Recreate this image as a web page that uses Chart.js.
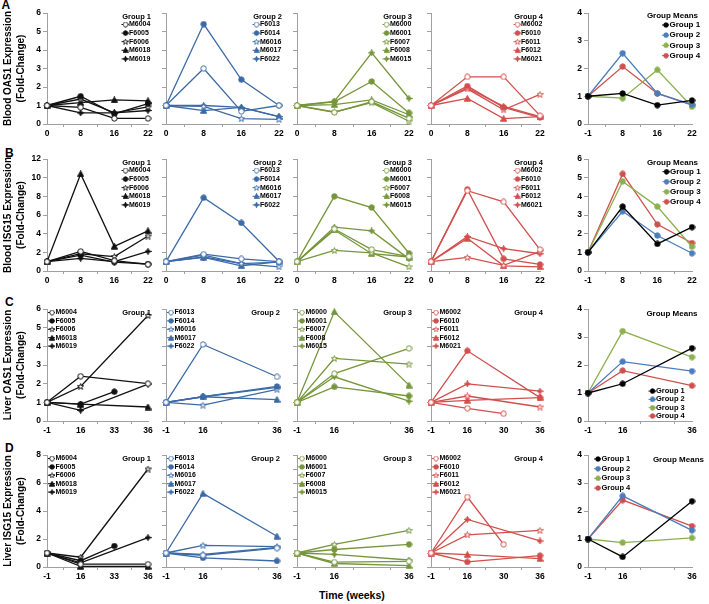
<!DOCTYPE html>
<html>
<head>
<meta charset="utf-8">
<script src="https://cdn.jsdelivr.net/npm/chart.js@4.4.0/dist/chart.umd.min.js"></script>
<style>
  body { margin: 0; background: #fff; }
  #fig { position: relative; width: 709px; height: 604px; overflow: hidden; font-family: "Liberation Sans", Arial, sans-serif; }
  #fig canvas { position: absolute; }
  .lbl { position: absolute; font-weight: bold; color: #000; white-space: nowrap; line-height: 1; }
</style>
</head>
<body>
<div id="fig">
  <div class="lbl" style="left:1.5px;top:-1px;font-size:12px">A</div>
  <div class="lbl" style="left:5px;top:147px;font-size:12px">B</div>
  <div class="lbl" style="left:5px;top:296px;font-size:12px">C</div>
  <div class="lbl" style="left:5px;top:442px;font-size:12px">D</div>
  <div class="lbl" style="left:319px;top:590px;font-size:10.5px">Time (weeks)</div>
</div>
<script>
// x categories (weeks)
const bloodWeeks = ['0', '8', '16', '22'];
const bloodMeanWeeks = ['-1', '8', '16', '22'];
const liverWeeksG1 = ['-1', '16', '33', '36'];
const liverWeeks = ['-1', '16', '', '36'];
const liverWeeksG4 = ['-1', '16', '30', '36'];

// animals, in legend order
const group1 = ['M6004', 'F6005', 'F6006', 'M6018', 'M6019'];
const group2 = ['F6013', 'F6014', 'M6016', 'M6017', 'F6022'];
const group3 = ['M6000', 'M6001', 'F6007', 'F6008', 'M6015'];
const group4 = ['M6002', 'F6010', 'F6011', 'F6012', 'M6021'];
const meanNames = ['Group 1', 'Group 2', 'Group 3', 'Group 4'];

// A - Blood OAS1
const bloodOAS1G1 = [[1, 0.9, 0.3, 0.3], [1, 1.5, 0.55, 1.1], [1, 1.35, 0.6, 0.92], [1, 1.15, 1.3, 1.25], [1, 0.6, 0.6, 0.73]];
const bloodOAS1G2 = [[1, 3.0, 0.68, 1.0], [1, 5.4, 2.4, 1.0], [1, 0.95, 0.29, 0.25], [1, 0.72, 0.9, 0.4], [1, 1.0, 0.9, 0.4]];
const bloodOAS1G3 = [[1, 0.63, 1.2, 0.3], [1, 1.2, 2.3, 0.6], [1, 0.65, 1.15, 0.15], [1, 1.05, 1.3, 0.5], [1, 1.22, 3.85, 1.38]];
const bloodOAS1G4 = [[1, 2.55, 2.55, 0.45], [1, 2.05, 0.9, 0.35], [1, 1.9, 0.77, 1.6], [1, 1.38, 0.29, 0.4], [1, 1.95, 0.95, 0.4]];
const bloodOAS1Means = [[1, 1.1, 0.68, 0.85], [1, 2.55, 1.1, 0.7], [1, 0.93, 1.95, 0.62], [1, 2.07, 1.1, 0.68]];

// B - Blood ISG15
const bloodISG15G1 = [[1, 2.1, 1.1, 0.7], [1, 1.7, 0.95, 0.75], [1, 1.85, 1.55, 3.75], [1, 10.4, 2.65, 4.3], [1, 1.35, 1.0, 2.1]];
const bloodISG15G2 = [[1, 1.8, 1.3, 1.0], [1, 7.85, 5.15, 1.05], [1, 1.7, 0.8, 0.45], [1, 1.45, 0.55, 1.0], [1, 1.5, 0.8, 0.95]];
const bloodISG15G3 = [[1, 4.5, 2.3, 1.55], [1, 8.0, 6.8, 1.9], [1, 2.2, 1.95, 0.45], [1, 4.4, 1.85, 1.5], [1, 4.7, 4.3, 1.3]];
const bloodISG15G4 = [[1, 8.6, 7.4, 2.3], [1, 8.75, 1.3, 0.7], [1, 1.45, 0.6, 2.1], [1, 3.5, 0.55, 0.45], [1, 3.7, 2.4, 1.85]];
const bloodISG15Means = [[1, 3.45, 1.45, 2.35], [1, 3.2, 1.9, 0.95], [1, 4.8, 3.45, 1.3], [1, 5.2, 2.5, 1.5]];

// C - Liver OAS1
const liverOAS1G1 = [[1, 2.4, null, 2.0], [1, 0.9, 1.57, null], [1, 1.85, null, 5.65], [1, 0.9, null, 0.75], [1, 0.57, null, 1.98]];
const liverOAS1G2 = [[1, 4.1, null, 2.37], [1, 1.3, null, 1.85], [1, 0.85, null, 1.7], [1, 1.3, null, 1.15], [1, 1.3, null, 1.8]];
const liverOAS1G3 = [[1, 2.54, null, 3.89], [1, 1.83, null, 1.34], [1, 3.35, null, 3.05], [1, 5.85, null, 1.92], [1, 2.37, null, 1.06]];
const liverOAS1G4 = [[1, 0.68, 0.39, null], [1, 3.76, null, 1.25], [1, 1.34, null, 0.75], [1, 1.11, null, 1.25], [1, 1.99, null, 1.6]];
const liverOAS1Means = [[1, 1.33, null, 2.6], [1, 2.12, null, 1.78], [1, 3.21, null, 2.28], [1, 1.8, null, 1.26]];

// D - Liver ISG15
const liverISG15G1 = [[1, 0.2, null, 0.2], [1, 0.45, 1.5, null], [1, 0.7, null, 7.0], [1, 0.05, null, 0.05], [1, 0.3, null, 2.1]];
const liverISG15G2 = [[1, 0.84, null, 1.35], [1, 0.65, null, 0.43], [1, 1.55, null, 1.45], [1, 5.25, null, 2.2], [1, 0.9, null, 1.4]];
const liverISG15G3 = [[1, 0.35, null, 0.4], [1, 1.25, null, 1.62], [1, 1.62, null, 2.62], [1, 0.25, null, 0.1], [1, 0.9, null, 0.5]];
const liverISG15G4 = [[1, 5.0, 1.62, null], [1, 0.36, null, 0.81], [1, 2.3, null, 2.62], [1, 0.88, null, 0.6], [1, 3.4, null, 1.86]];
const liverISG15Means = [[1, 0.36, null, 2.35], [1, 2.54, null, 1.31], [1, 0.87, null, 1.04], [1, 2.39, null, 1.46]];

const fig = document.getElementById('fig');
const fontFam = '"Liberation Sans", Arial, sans-serif';
const axisGrey = '#a0a0a0';
const groupColors = ['#111111', '#3b6aa6', '#76963a', '#d24f4d'];
const meanColors = ['#000000', '#4a7dbb', '#8cb04f', '#d0504f'];
const animalShapes = ['openCircle', 'circle', 'openStar', 'triangle', 'cross'];

function makeMarker(shape, color, size) {
  const c = document.createElement('canvas');
  c.width = size; c.height = size;
  const g = c.getContext('2d');
  const m = size / 2;
  g.lineWidth = 1;
  g.strokeStyle = color;
  g.fillStyle = shape.startsWith('open') ? '#fff' : color;
  g.beginPath();
  if (shape === 'circle' || shape === 'openCircle') {
    g.arc(m, m, m - 0.8, 0, Math.PI * 2);
  } else if (shape === 'openStar') {
    for (let i = 0; i < 10; i++) {
      const r = i % 2 ? (m - 0.5) * 0.45 : m - 0.3;
      const a = -Math.PI / 2 + i * Math.PI / 5;
      g.lineTo(m + r * Math.cos(a), m + r * Math.sin(a) + 0.3);
    }
  } else if (shape === 'triangle') {
    g.moveTo(m, 0.4); g.lineTo(size - 0.4, size - 0.8); g.lineTo(0.4, size - 0.8);
  } else if (shape === 'cross') {
    for (let i = 0; i < 8; i++) {
      const r = i % 2 ? m * 0.38 : m - 0.3;
      const a = -Math.PI / 2 + i * Math.PI / 4;
      g.lineTo(m + r * Math.cos(a), m + r * Math.sin(a));
    }
  }
  g.closePath();
  g.fill();
  g.stroke();
  return c;
}

// legend drawn inside the plot, Excel style
function legendPlugin(lg, names, colors, markers) {
  return {
    id: 'groupLegend',
    afterDraw(chart) {
      const {ctx, chartArea: a} = chart;
      ctx.save();
      ctx.fillStyle = '#000';
      ctx.textBaseline = 'middle';
      ctx.textAlign = 'right';
      ctx.font = `bold ${lg.titleSize}px ${fontFam}`;
      ctx.fillText(lg.title, a.right + lg.tx, a.top + lg.ty);
      ctx.textAlign = 'left';
      ctx.font = `bold ${lg.size}px ${fontFam}`;
      const mx = lg.side === 'left' ? a.left + lg.mx : a.right + lg.mx;
      const y0 = lg.fromBottom ? a.bottom + lg.my - (names.length - 1) * lg.gap : a.top + lg.my;
      names.forEach((n, i) => {
        const y = y0 + i * lg.gap;
        ctx.strokeStyle = colors[i];
        ctx.lineWidth = 1;
        ctx.beginPath(); ctx.moveTo(mx - 4, y); ctx.lineTo(mx + 3, y); ctx.stroke();
        ctx.drawImage(markers[i], mx - 3, y - 3, 6, 6);
        ctx.fillText(n, mx + 3.5, y);
      });
      ctx.restore();
    }
  };
}

function addPanel(p) {
  const L = p.yTitle ? p.x0 : 12;
  const T = 10, R = 16, B = 16;
  const cv = document.createElement('canvas');
  cv.width = p.x1 - p.x0 + L + R;
  cv.height = p.yb - p.yt + T + B;
  cv.style.left = (p.x0 - L) + 'px';
  cv.style.top = (p.yt - T) + 'px';
  fig.appendChild(cv);

  const colors = p.means ? meanColors : p.series.map(() => groupColors[p.group]);
  const markers = p.series.map((s, i) => makeMarker(p.means ? 'circle' : animalShapes[i], colors[i], 7));
  const tickFont = {family: fontFam, size: 8.5, weight: 'bold'};

  new Chart(cv, {
    type: 'line',
    data: {
      labels: p.labels,
      datasets: p.series.map((vals, i) => ({
        label: p.names[i],
        data: vals,
        borderColor: colors[i],
        borderWidth: 1.3,
        pointStyle: markers[i],
        pointRadius: 3.5,
        spanGaps: true,
        clip: false,
        tension: 0
      }))
    },
    options: {
      responsive: false,
      animation: false,
      devicePixelRatio: 1,
      events: [],
      layout: {padding: {left: 0, top: T, right: R, bottom: 0}},
      plugins: {legend: {display: false}, tooltip: {enabled: false}},
      scales: {
        x: {
          offset: false,
          grid: {drawOnChartArea: false, offset: true, tickLength: 3, color: axisGrey},
          border: {color: axisGrey},
          ticks: {font: tickFont, color: '#000', padding: 2, maxRotation: 0, autoSkip: false},
          afterFit: s => { s.height = B; }
        },
        y: {
          min: 0,
          max: p.yMax,
          grid: {drawOnChartArea: false, tickLength: 4, color: axisGrey},
          border: {color: axisGrey},
          ticks: {
            stepSize: p.yStep, font: tickFont, color: '#000', padding: 2,
            callback: p.showY ? (v => v) : (() => '')
          },
          title: p.yTitle ? {
            display: true, text: p.yTitle, color: '#000',
            font: {family: fontFam, size: 10, weight: 'bold', lineHeight: 1.35},
            padding: {top: 1, bottom: 0}
          } : {display: false},
          afterFit: s => { s.width = L; }
        }
      }
    },
    plugins: [legendPlugin(p.legend, p.names, colors, markers)]
  });
}

const rows = [
  {yt: 13, yb: 124, yMax: 6, yStep: 1, inStep: 1, mMax: 4, mStep: 1, x2: 279,
   title: ['Blood OAS1 Expression', '(Fold-Change)'],
   labels: [bloodWeeks, bloodWeeks, bloodWeeks, bloodWeeks, bloodMeanWeeks],
   series: [bloodOAS1G1, bloodOAS1G2, bloodOAS1G3, bloodOAS1G4, bloodOAS1Means]},
  {yt: 159, yb: 271, yMax: 12, yStep: 2, inStep: 1, mMax: 6, mStep: 1, x2: 279,
   title: ['Blood ISG15 Expression', '(Fold-Change)'],
   labels: [bloodWeeks, bloodWeeks, bloodWeeks, bloodWeeks, bloodMeanWeeks],
   series: [bloodISG15G1, bloodISG15G2, bloodISG15G3, bloodISG15G4, bloodISG15Means]},
  {yt: 309, yb: 421, yMax: 6, yStep: 1, inStep: 1, mMax: 4, mStep: 1, x2: 277,
   title: ['Liver OAS1 Expression', '(Fold-Change)'],
   labels: [liverWeeksG1, liverWeeks, liverWeeks, liverWeeksG4, liverWeeks],
   series: [liverOAS1G1, liverOAS1G2, liverOAS1G3, liverOAS1G4, liverOAS1Means]},
  {yt: 455, yb: 567, yMax: 8, yStep: 2, inStep: 1, mMax: 4, mStep: 1, x2: 277,
   title: ['Liver ISG15 Expression', '(Fold-Change)'],
   labels: [liverWeeksG1, liverWeeks, liverWeeks, liverWeeksG4, liverWeeks],
   series: [liverISG15G1, liverISG15G2, liverISG15G3, liverISG15G4, liverISG15Means]}
];
const groups = [group1, group2, group3, group4];

const meanLegends = [
  {tx: 6, ty: 3, side: 'right', mx: -26, my: 12, gap: 10.2, size: 8, titleSize: 8},
  {tx: 6, ty: 3.3, side: 'right', mx: -25.5, my: 12.7, gap: 10, size: 8, titleSize: 8},
  {tx: 5.5, ty: 5, side: 'right', mx: -39.5, my: -5, fromBottom: true, gap: 8.3, size: 7.5, titleSize: 8},
  {tx: 12, ty: 4.3, side: 'left', mx: 10, my: 4, gap: 9.7, size: 7.5, titleSize: 8}
];

rows.forEach((r, ri) => {
  const cols = [[47, 148], [166, r.x2], [297, 409], [431, 540], [588, 692]];
  cols.forEach(([x0, x1], ci) => {
    const means = ci === 4;
    let legend;
    if (means) {
      legend = Object.assign({title: 'Group Means'}, meanLegends[ri]);
    } else if (ri < 2) {
      legend = {title: 'Group ' + (ci + 1), tx: 3, ty: 3.5, side: 'right', mx: -22.5, my: 11.5, gap: 8.6, size: 7, titleSize: 7.5};
    } else {
      legend = {title: 'Group ' + (ci + 1), tx: 3, ty: 4, side: 'left', mx: 5, my: 3.5, gap: 8.4, size: 7, titleSize: 7.5};
    }
    addPanel({
      x0, x1, yt: r.yt, yb: r.yb,
      labels: r.labels[ci],
      series: r.series[ci],
      names: means ? meanNames : groups[ci],
      group: ci,
      means,
      yMax: means ? r.mMax : r.yMax,
      yStep: means ? r.mStep : (ci === 0 ? r.yStep : r.inStep),
      showY: ci === 0 || means,
      yTitle: ci === 0 ? r.title : null,
      legend
    });
  });
});
</script>
</body>
</html>
